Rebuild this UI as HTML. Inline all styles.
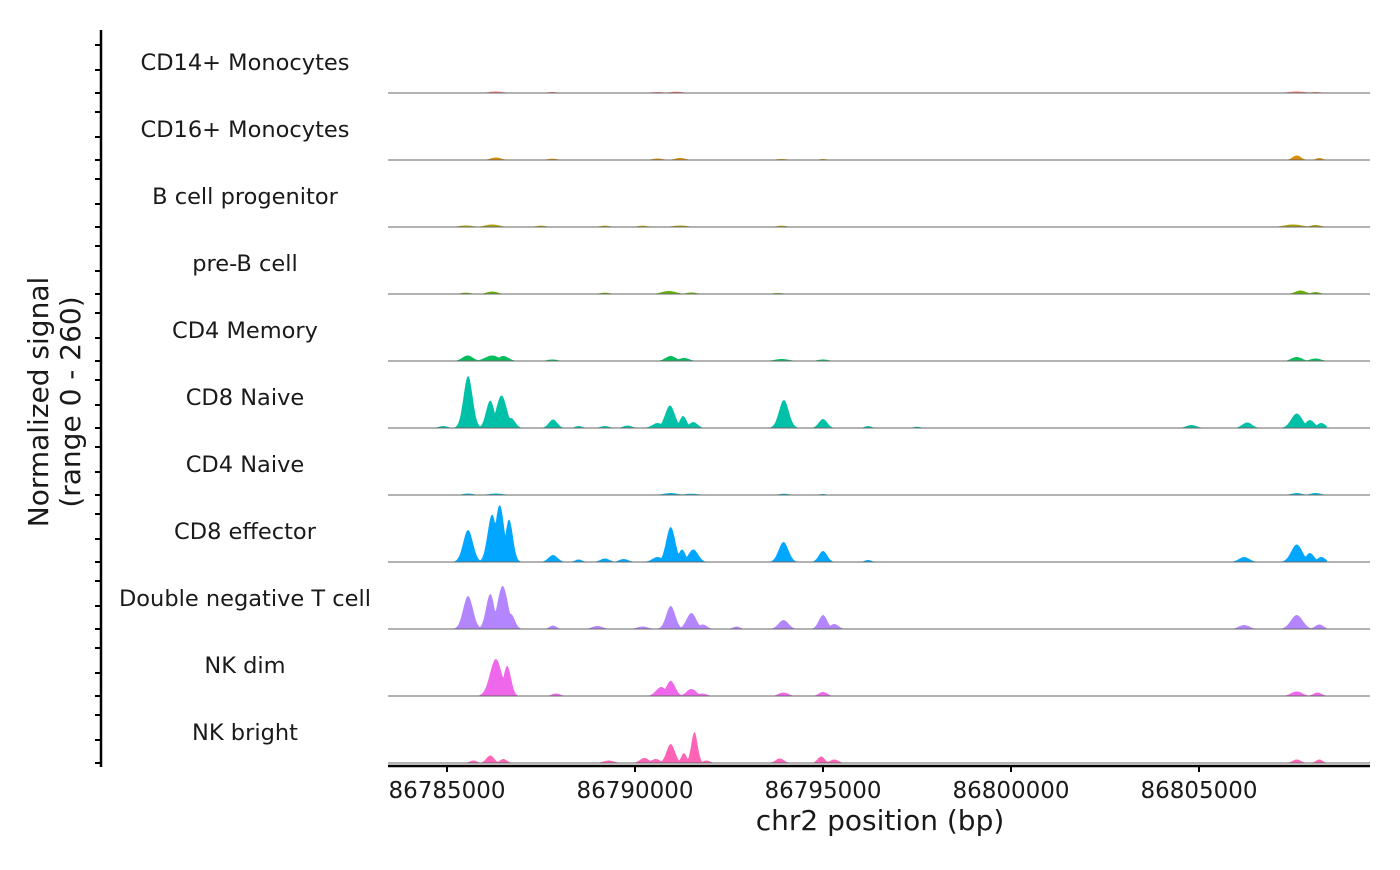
<!DOCTYPE html>
<html><head><meta charset="utf-8"><style>
body{margin:0;background:#fff}
svg text{font-family:"DejaVu Sans","Liberation Sans",sans-serif;fill:#1a1a1a}
</style></head><body>
<svg id="chart" width="1400" height="865" xmlns="http://www.w3.org/2000/svg">
<g id="yaxis"></g>
<g id="tracks"></g>
<g id="xaxis"></g>
<text transform="translate(52,402) rotate(-90)" text-anchor="middle" font-size="28"><tspan x="0" dy="-4">Normalized signal</tspan><tspan x="0" dy="32">(range 0 - 260)</tspan></text>
<text x="880" y="830" text-anchor="middle" font-size="28">chr2 position (bp)</text>
</svg>
<script>
const trackNames=["CD14+ Monocytes","CD16+ Monocytes","B cell progenitor","pre-B cell","CD4 Memory","CD8 Naive","CD4 Naive","CD8 effector","Double negative T cell","NK dim","NK bright"];
const trackColors=["#F8766D","#DB8E00","#AEA200","#64B200","#00BD5C","#00C1A7","#00BADE","#00A6FF","#B385FF","#EF67EB","#FF63B6"];
const xTicks=[86785000,86790000,86795000,86800000,86805000];
const yMax=260;
// peaks per track: [position bp, value, half-width bp]
const peaksCD14=[[86786300,6,200],[86787800,4,150],[86790600,4,200],[86791100,5,200],[86807600,6,250],[86808100,4,150]];
const peaksCD16=[[86786300,10,150],[86787800,5,150],[86790600,6,150],[86791200,8,150],[86793900,4,150],[86795000,4,100],[86807600,18,120],[86808200,8,100]];
const peaksBprog=[[86785500,6,200],[86786200,10,200],[86787500,5,150],[86789200,5,150],[86790200,5,150],[86791200,6,200],[86793900,5,150],[86807500,10,250],[86808100,8,150]];
const peaksPreB=[[86785500,5,150],[86786200,10,150],[86789200,5,150],[86790900,12,200],[86791500,6,150],[86793800,4,150],[86807700,14,150],[86808100,8,120]];
const peaksCD4M=[[86785550,22,150],[86786200,22,200],[86786500,20,150],[86787800,6,150],[86790950,20,150],[86791300,12,150],[86793900,8,200],[86795000,6,150],[86807600,16,150],[86808100,10,150]];
const peaksCD8N=[[86784900,8,120],[86785560,208,130],[86786150,110,120],[86786450,130,150],[86786700,40,120],[86787820,34,120],[86788500,8,100],[86789200,8,120],[86789800,10,120],[86790600,20,150],[86790930,90,140],[86791280,48,100],[86791550,24,120],[86793960,112,140],[86795000,36,120],[86796200,8,100],[86797500,5,100],[86804800,12,150],[86806280,22,140],[86807600,58,160],[86807950,32,130],[86808250,20,120]];
const peaksCD4N=[[86785560,6,150],[86786300,6,200],[86790950,8,200],[86791500,5,200],[86793960,5,150],[86795000,4,100],[86807600,8,150],[86808100,8,150]];
const peaksCD8E=[[86785560,128,140],[86786200,190,130],[86786400,228,130],[86786650,170,110],[86787820,28,130],[86788500,10,100],[86789200,14,130],[86789700,12,130],[86790600,20,150],[86790950,140,130],[86791250,50,100],[86791550,50,140],[86793950,80,140],[86795000,44,120],[86796200,8,100],[86806200,20,150],[86807600,70,160],[86807950,36,120],[86808250,20,120]];
const peaksDNT=[[86785560,132,140],[86786150,140,120],[86786480,172,150],[86786700,60,110],[86787820,14,100],[86789000,12,150],[86790200,10,150],[86790950,92,130],[86791500,64,140],[86791800,18,120],[86792700,10,100],[86793950,36,140],[86795000,56,120],[86795300,20,120],[86806200,16,150],[86807600,56,170],[86808200,18,120]];
const peaksNKdim=[[86786300,148,170],[86786600,120,110],[86787900,10,120],[86790700,36,150],[86790950,60,130],[86791500,28,140],[86791800,10,120],[86793950,14,140],[86795000,16,120],[86807600,18,160],[86808150,14,120]];
const peaksNKbr=[[86785700,10,100],[86786150,30,110],[86786500,16,100],[86789300,10,150],[86790250,20,130],[86790550,16,130],[86790950,76,120],[86791300,40,80],[86791580,124,90],[86791900,10,100],[86793850,18,120],[86794950,26,100],[86795300,14,120],[86807600,14,120],[86808200,14,100]];
const trackPeaks=[peaksCD14,peaksCD16,peaksBprog,peaksPreB,peaksCD4M,peaksCD8N,peaksCD4N,peaksCD8E,peaksDNT,peaksNKdim,peaksNKbr];

const NS="http://www.w3.org/2000/svg";
const plotL=388,plotR=1370,trackH=67,firstBase=93;
const xScale=bp=>447+(bp-86785000)/5000*188;
const yScale=(v,base)=>base-v/yMax*65;
const dataStart=86784700,dataEnd=86808400;
function mk(tag,attrs,parent){const e=document.createElementNS(NS,tag);for(const k in attrs)e.setAttribute(k,attrs[k]);parent.appendChild(e);return e;}

const ya=document.getElementById('yaxis');
const yl=mk('line',{x1:101,y1:30,x2:101,y2:767,stroke:'#000','stroke-width':2.5},ya);


const tracksG=document.getElementById('tracks');
trackNames.forEach((name,i)=>{
  const base=firstBase+i*trackH;
  [base-48,base-23,base].forEach(ty=>{
    const t=mk('line',{x1:95,y1:ty,x2:101,y2:ty,stroke:'#000','stroke-width':2},ya);
    
    
  });
  const g=mk('g',{},tracksG);
  
  
  const lab=mk('text',{x:245,y:base-23,'text-anchor':'middle','font-size':22.5},g);
  lab.textContent=name;
  
  
  const peaks=trackPeaks[i];
  let d='M'+xScale(dataStart)+','+base;
  for(let bp=dataStart;bp<=dataEnd;bp+=25){
    let v=0;
    peaks.forEach(p=>{const w=p[2]*1.3;const z=(bp-p[0])/w;const c=p[1]*Math.exp(-z*z);if(c>v)v=c;});
    d+=' L'+xScale(bp).toFixed(1)+','+yScale(v,base).toFixed(1);
  }
  d+=' L'+xScale(dataEnd)+','+base+'Z';
  const area=mk('path',{d:d,fill:trackColors[i]},g);
  
  
  const bl=mk('line',{x1:plotL,y1:base,x2:plotR,y2:base,stroke:'#666','stroke-width':1},g);
  
  
});
const xa=document.getElementById('xaxis');
const xl=mk('line',{x1:plotL,y1:766,x2:plotR,y2:766,stroke:'#000','stroke-width':2.5},xa);


xTicks.forEach(v=>{
  const x=xScale(v);
  const t=mk('line',{x1:x,y1:766,x2:x,y2:772,stroke:'#000','stroke-width':2},xa);
  
  
  const tl=mk('text',{x:x,y:798,'text-anchor':'middle','font-size':23},xa);
  tl.textContent=v;
  
  
});
</script>
</body></html>
